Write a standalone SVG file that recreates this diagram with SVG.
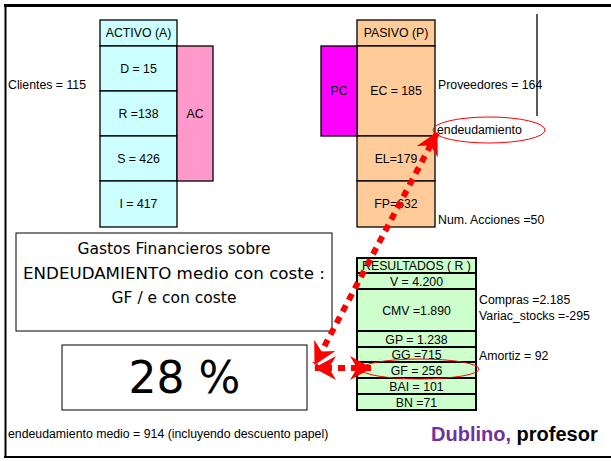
<svg xmlns="http://www.w3.org/2000/svg" width="611" height="461" viewBox="0 0 611 461">
<style>
.t{font-family:"Liberation Sans",Arial,sans-serif;font-size:12.3px;fill:#000}
.c{text-anchor:middle;dominant-baseline:central}
.cell{stroke:#000;stroke-width:1.3}
.res{stroke:#000;stroke-width:2;fill:#CCFFCC}
.comic{font-family:"DejaVu Sans","Liberation Sans",sans-serif;fill:#000;text-anchor:middle}
.conn{fill:none;stroke:#FF0000;stroke-width:6;stroke-dasharray:7 6}
</style>
<defs>
<marker id="ah" viewBox="0 0 22 24" refX="21" refY="12" markerWidth="22" markerHeight="24" markerUnits="userSpaceOnUse" orient="auto-start-reverse">
<path d="M0,0 L22,12 L0,24 L7,12 z" fill="#FF0000"/>
</marker>
</defs>
<rect width="611" height="461" fill="#fff"/>
<g id="frame" stroke="#000" fill="none">
<line x1="4" y1="5.5" x2="611" y2="5.5" stroke-width="3"/>
<line x1="5.5" y1="4" x2="5.5" y2="458" stroke-width="2"/>
<line x1="4" y1="457" x2="611" y2="457" stroke-width="2"/>
</g>
<g id="activo">
<rect class="cell" x="100" y="20" width="77" height="26" fill="#CCFFFF"/>
<text class="t c" x="138.5" y="33">ACTIVO (A)</text>
<rect class="cell" x="100" y="46" width="77" height="45" fill="#CCFFFF"/>
<text class="t c" x="138.5" y="69">D = 15</text>
<rect class="cell" x="100" y="91" width="77" height="45" fill="#CCFFFF"/>
<text class="t c" x="138.5" y="114">R =138</text>
<rect class="cell" x="100" y="136" width="77" height="45" fill="#CCFFFF"/>
<text class="t c" x="138.5" y="159">S = 426</text>
<rect class="cell" x="100" y="181" width="77" height="46" fill="#CCFFFF"/>
<text class="t c" x="138.5" y="204">I = 417</text>
</g>
<g id="ac">
<rect class="cell" x="177" y="46" width="36" height="135" fill="#FF99CC"/>
<text class="t c" x="195" y="114">AC</text>
</g>
<text class="t" x="8" y="89">Clientes = 115</text>
<g id="pasivo">
<rect class="cell" x="357" y="20" width="78" height="26" fill="#FFCC99"/>
<text class="t c" x="396" y="33">PASIVO (P)</text>
<rect class="cell" x="357" y="46" width="78" height="90" fill="#FFCC99"/>
<text class="t c" x="396" y="91">EC = 185</text>
<rect class="cell" x="357" y="136" width="78" height="45" fill="#FFCC99"/>
<text class="t c" x="396" y="159">EL=179</text>
<rect class="cell" x="357" y="181" width="78" height="46" fill="#FFCC99"/>
<text class="t c" x="396" y="204">FP=632</text>
</g>
<g id="pc">
<rect class="cell" x="321" y="46" width="36" height="90" fill="#FF00FF"/>
<text class="t c" x="339" y="91">PC</text>
</g>
<line x1="537" y1="14" x2="537" y2="116" stroke="#000" stroke-width="1.3"/>
<text class="t" x="438" y="89">Proveedores = 164</text>
<g id="endeudamiento">
<ellipse cx="489" cy="130" rx="56" ry="13" fill="none" stroke="#FF0000" stroke-width="1"/>
<text class="t" x="437" y="134">endeudamiento</text>
</g>
<text class="t" x="438" y="224">Num. Acciones =50</text>
<g id="resultados">
<rect class="res" x="357" y="258" width="119" height="15"/>
<text class="t c" x="416.5" y="266">RESULTADOS  ( R )</text>
<rect class="res" x="357" y="273" width="119" height="16"/>
<text class="t c" x="416.5" y="281.5">V = 4.200</text>
<rect class="res" x="357" y="289" width="119" height="42"/>
<text class="t c" x="416.5" y="310.5">CMV =1.890</text>
<rect class="res" x="357" y="331" width="119" height="16"/>
<text class="t c" x="416.5" y="339.5">GP = 1.238</text>
<rect class="res" x="357" y="347" width="119" height="15"/>
<text class="t c" x="416.5" y="355">GG =715</text>
<rect class="res" x="357" y="362" width="119" height="16"/>
<text class="t c" x="416.5" y="370.5">GF = 256</text>
<rect class="res" x="357" y="378" width="119" height="16"/>
<text class="t c" x="416.5" y="386.5">BAI = 101</text>
<rect class="res" x="357" y="394" width="119" height="16"/>
<text class="t c" x="416.5" y="402.5">BN =71</text>
</g>
<ellipse id="gf-mark" cx="420" cy="369" rx="59" ry="10" fill="none" stroke="#FF0000" stroke-width="1"/>
<text class="t" x="479" y="304">Compras =2.185</text>
<text class="t" x="479" y="320">Variac_stocks =-295</text>
<text class="t" x="479" y="360">Amortiz = 92</text>
<g id="gastos">
<rect x="16" y="233" width="316" height="98" fill="#fff" stroke="#000" stroke-width="1"/>
<text class="comic" x="174" y="253.5" font-size="15.5">Gastos Financieros sobre</text>
<text class="comic" x="174" y="278.5" font-size="15.5" textLength="302" lengthAdjust="spacingAndGlyphs">ENDEUDAMIENTO medio con coste :</text>
<text class="comic" x="174" y="303" font-size="15.5">GF / e con coste</text>
</g>
<g id="resultado">
<rect x="62" y="345" width="245" height="65" fill="#fff" stroke="#000" stroke-width="1"/>
<text class="comic" x="184.5" y="393" font-size="44">28 %</text>
</g>
<g id="connectors">
<line class="conn" x1="437" y1="133" x2="315" y2="364" marker-start="url(#ah)" marker-end="url(#ah)"/>
<line class="conn" x1="371" y1="368" x2="315" y2="368" marker-start="url(#ah)" marker-end="url(#ah)"/>
</g>
<text class="t" x="8" y="438">endeudamiento medio = 914 (incluyendo descuento papel)</text>
<text x="431" y="441" font-family="Liberation Sans,Arial,sans-serif" font-size="20" font-weight="bold"><tspan fill="#7030A0">Dublino,</tspan><tspan fill="#000"> profesor</tspan></text>
</svg>
